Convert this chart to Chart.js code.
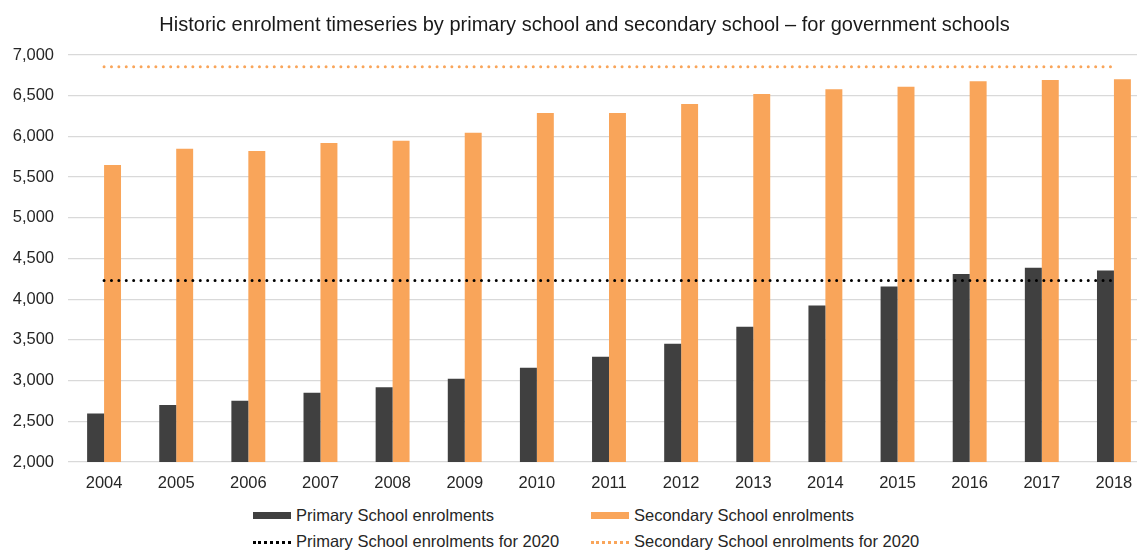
<!DOCTYPE html>
<html>
<head>
<meta charset="utf-8">
<script src="https://cdn.jsdelivr.net/npm/chart.js@4.4.1/dist/chart.umd.min.js"></script>
<style>
  html, body { margin: 0; padding: 0; background: #fff; overflow: hidden; }
  body { width: 1137px; height: 550px; position: relative; font-family: "Liberation Sans", Arial, sans-serif; }
  #wrap { position: absolute; left: 0; top: 0; width: 1169px; height: 500px; }
  #title { position: absolute; left: 0; top: 12px; width: 1169px; text-align: center; font-size: 20px; line-height: 24px; color: #1a1a1a; white-space: nowrap; }
  .lg { position: absolute; font-size: 16.5px; color: #262626; white-space: nowrap; line-height: 20px; }
  .sw { position: absolute; width: 38px; }
  .sw.bar { height: 7px; }
  .sw.dot { height: 0; border-top: 3px dotted; }
</style>
</head>
<body>
<div id="wrap"><canvas id="enrolChart" width="1169" height="500"></canvas></div>
<div id="title">Historic enrolment timeseries by primary school and secondary school – for government schools</div>

<div class="sw bar" style="left:253px; top:512px; background:#404040;"></div>
<div class="lg" style="left:296px; top:505px;">Primary School enrolments</div>
<div class="sw bar" style="left:591px; top:512px; background:#F9A55A;"></div>
<div class="lg" style="left:634px; top:505px;">Secondary School enrolments</div>
<div class="sw dot" style="left:253px; top:541px; border-color:#000;"></div>
<div class="lg" style="left:296px; top:531px;">Primary School enrolments for 2020</div>
<div class="sw dot" style="left:591px; top:541px; border-color:#F9A55A;"></div>
<div class="lg" style="left:634px; top:531px;">Secondary School enrolments for 2020</div>

<script>
const years = ["2004", "2005", "2006", "2007", "2008", "2009", "2010", "2011", "2012", "2013", "2014", "2015", "2016", "2017", "2018"];
const primaryEnrolments = [2595, 2700, 2753, 2851, 2917, 3023, 3159, 3294, 3453, 3662, 3924, 4157, 4310, 4387, 4354];
const secondaryEnrolments = [5650, 5849, 5821, 5919, 5947, 6046, 6287, 6287, 6398, 6521, 6578, 6611, 6676, 6693, 6701];
const primaryTarget2020 = [4230, 4230, 4230, 4230, 4230, 4230, 4230, 4230, 4230, 4230, 4230, 4230, 4230, 4230, 4230];
const secondaryTarget2020 = [6855, 6855, 6855, 6855, 6855, 6855, 6855, 6855, 6855, 6855, 6855, 6855, 6855, 6855, 6855];
const yTicks = [2000, 2500, 3000, 3500, 4000, 4500, 5000, 5500, 6000, 6500, 7000];

const DARK = "#404040";
const ORANGE = "#F9A55A";
const FONT = "'Liberation Sans', Arial, sans-serif";

function dottedLine(label, data, color) {
    return {
        type: "line",
        label,
        data,
        borderColor: color,
        backgroundColor: color,
        borderWidth: 3,
        borderDash: [0, 7.4],
        borderCapStyle: "round",
        pointRadius: 0,
        tension: 0,
        fill: false,
        order: 0,
    };
}

const ctx = document.getElementById("enrolChart").getContext("2d");
new Chart(ctx, {
    type: "bar",
    data: {
        labels: years,
        datasets: [
            { label: "Primary School enrolments", data: primaryEnrolments, backgroundColor: DARK, borderWidth: 0, order: 1 },
            { label: "Secondary School enrolments", data: secondaryEnrolments, backgroundColor: ORANGE, borderWidth: 0, order: 1 },
            dottedLine("Primary School enrolments for 2020", primaryTarget2020, "#000000"),
            dottedLine("Secondary School enrolments for 2020", secondaryTarget2020, ORANGE),
        ],
    },
    options: {
        responsive: false,
        animation: false,
        // title and legend are html, top padding leaves room for the title
        layout: { padding: { left: 0, right: 19, top: 55, bottom: 0 } },
        datasets: { bar: { categoryPercentage: 0.47, barPercentage: 1.0 } },
        plugins: {
            legend: { display: false },
            tooltip: { enabled: false },
            title: { display: false },
        },
        scales: {
            x: {
                grid: { display: false, drawTicks: false },
                border: { display: false },
                ticks: { color: "#262626", font: { family: FONT, size: 16.5 }, padding: 12 },
                afterFit: (scale) => { scale.height = 38; },
            },
            y: {
                min: 2000,
                max: 7000,
                afterBuildTicks: (scale) => { scale.ticks = yTicks.map(v => ({ value: v })); },
                grid: { color: "#d9d9d9", lineWidth: 1.3, drawTicks: false },
                border: { display: false },
                ticks: {
                    color: "#262626",
                    font: { family: FONT, size: 16.5 },
                    padding: 14,
                    callback: (v) => Number(v).toLocaleString("en-US"),
                },
                afterFit: (scale) => { scale.width = 68; },
            },
        },
    },
});
</script>
</body>
</html>
